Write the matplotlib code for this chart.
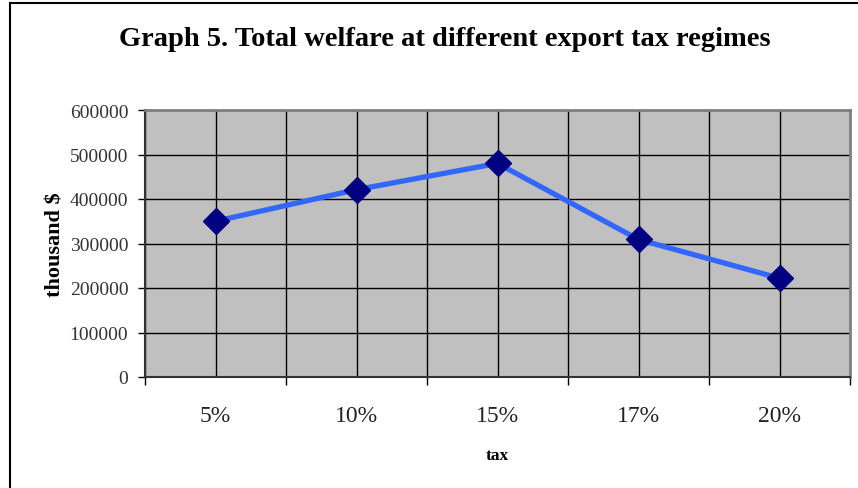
import matplotlib.pyplot as plt
from matplotlib.patches import Rectangle
import numpy as np

# Datos
impuestos = ['5%', '10%', '15%', '17%', '20%']
bienestar = [350000, 421000, 480000, 309000, 222000]

plt.rcParams['font.family'] = ['Liberation Serif', 'DejaVu Serif']

fig = plt.figure(figsize=(8.58, 4.89), dpi=100)
ax = fig.add_axes([145 / 858, 1 - 378 / 489, 705 / 858, 267 / 489])

# marco exterior del grafico
fig.patches.append(Rectangle((10 / 858, -0.1), 1.2, 1 - 4 / 489 + 0.1,
                             transform=fig.transFigure, fill=False,
                             edgecolor='black', linewidth=1.5))

x = np.arange(len(impuestos))
ax.set_facecolor('#c0c0c0')
ax.plot(x, bienestar, color='#3366ff', linewidth=3.8, zorder=3)
ax.plot(x, bienestar, linestyle='none', marker='D', markersize=13,
        color='#000080', zorder=4)

ax.set_xlim(-0.5, len(impuestos) - 0.5)
ax.set_ylim(0, 600000)
ax.set_yticks(np.arange(0, 600001, 100000))

# ticks mayores en los limites de categoria, menores en el centro con etiqueta
ax.set_xticks(np.arange(-0.5, len(impuestos), 1.0))
ax.set_xticklabels([])
ax.set_xticks(x, minor=True)
ax.set_xticklabels(impuestos, minor=True)
ax.tick_params(axis='x', which='major', direction='out', length=6, width=1, color='black')
ax.tick_params(axis='x', which='minor', length=0, pad=20, labelsize=17, labelcolor='#222222')
ax.tick_params(axis='y', direction='out', length=5, width=1, pad=7, labelsize=14, labelcolor='#333333')

ax.grid(True, which='both', color='black', linewidth=1, zorder=1)
ax.set_axisbelow(True)

for lado in ['top', 'right']:
    ax.spines[lado].set_color('#808080')
    ax.spines[lado].set_linewidth(2)
for lado in ['left', 'bottom']:
    ax.spines[lado].set_color('#333333')
    ax.spines[lado].set_linewidth(1.5)

ax.set_ylabel('thousand $', fontsize=16, fontweight='bold', labelpad=3)
ax.set_xlabel('tax', fontsize=12.5, fontweight='bold', labelpad=15)

fig.text(445 / 858, 1 - 40 / 489, 'Graph 5. Total welfare at different export tax regimes',
         ha='center', va='center', fontsize=20.5, fontweight='bold')

fig.savefig('out.png', dpi=100)
